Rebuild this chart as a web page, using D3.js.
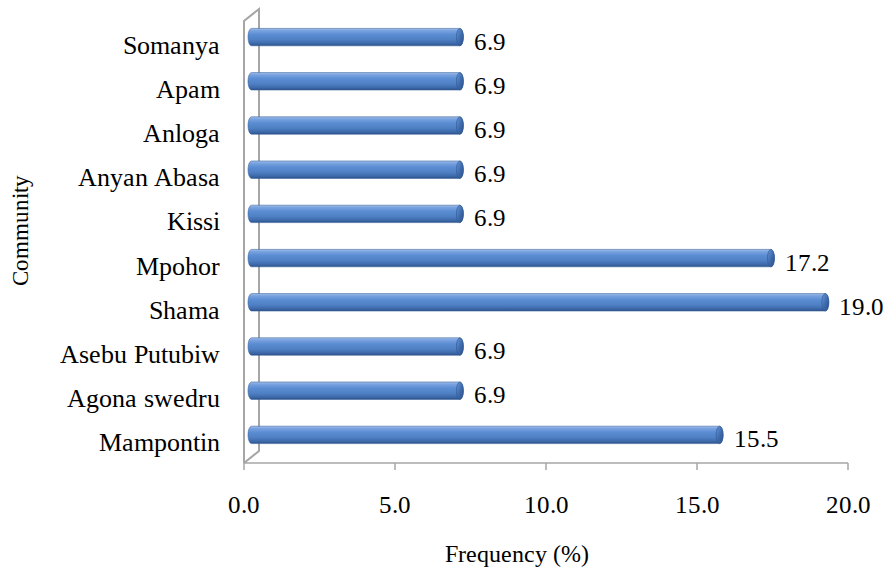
<!DOCTYPE html>
<html>
<head>
<meta charset="utf-8">
<script src="https://cdn.jsdelivr.net/npm/d3@7"></script>
<style>
  @font-face {
    font-family: "ChartSerif";
    src: local("Liberation Serif"), local("LiberationSerif"), local("LiberationSerif-Regular"),
         local("Times New Roman"), local("Tinos");
  }
</style>
</head>
<body style="margin:0">
<div id="viz"></div>
<script>
// Community names, bottom to top
const communities = ["Mampontin", "Agona swedru", "Asebu Putubiw", "Shama", "Mpohor",
                     "Kissi", "Anyan Abasa", "Anloga", "Apam", "Somanya"];
// Frequency (%) per community
const frequencies = [15.5, 6.9, 6.9, 19.0, 17.2, 6.9, 6.9, 6.9, 6.9, 6.9];
// X axis tick values
const xTicks = [0, 5, 10, 15, 20];

(function draw() {
  const serifFamily = "ChartSerif, 'Liberation Serif', 'Times New Roman', Times, serif";
  const svg = d3.select("#viz").append("svg")
    .attr("width", 886).attr("height", 574)
    .attr("font-family", serifFamily)
    .style("display", "block").style("background", "#ffffff");
  // apply the serif face to a text selection
  const serifText = (sel, size) => sel
    .attr("font-family", serifFamily)
    .style("font-family", serifFamily)
    .style("font-size", size + "px");

  // front plane of the plot and 3D depth offset
  const plotLeft = 244, plotRight = 848, plotTop = 21, plotBottom = 463;
  const depthX = 15, depthY = -12;

  const x = d3.scaleLinear().domain([0, 20]).range([plotLeft, plotRight]);
  const y = d3.scaleBand().domain(communities).range([plotBottom, plotTop])
    .paddingInner(0.61).paddingOuter(0.305);

  // gradients for cylinder bars
  const defs = svg.append("defs");
  const body = defs.append("linearGradient").attr("id", "barBody")
    .attr("x1", 0).attr("y1", 0).attr("x2", 0).attr("y2", 1);
  [[0, "#a7c3ea"], [0.12, "#7aa3e0"], [0.35, "#5b8dd3"], [0.65, "#4f80c4"], [0.88, "#3c68a8"], [1, "#2c4f86"]]
    .forEach(([o, c]) => body.append("stop").attr("offset", o).attr("stop-color", c));
  const cap = defs.append("linearGradient").attr("id", "barCap")
    .attr("x1", 0).attr("y1", 0).attr("x2", 1).attr("y2", 1);
  [[0, "#6c98d6"], [0.5, "#3f6db0"], [1, "#2b4f88"]]
    .forEach(([o, c]) => cap.append("stop").attr("offset", o).attr("stop-color", c));

  // side wall and floor edges
  const wallColor = "#a6a6a6";
  svg.append("path")
    .attr("d", `M${plotLeft},${plotBottom} L${plotLeft},${plotTop} L${plotLeft + depthX},${plotTop + depthY} ` +
               `L${plotLeft + depthX},${plotBottom + depthY} L${plotLeft},${plotBottom}`)
    .attr("stroke", wallColor).attr("stroke-width", 2).attr("fill", "none");

  // x axis line and ticks
  const axis = svg.append("g").attr("stroke", wallColor).attr("stroke-width", 1.5);
  axis.append("line").attr("x1", plotLeft).attr("x2", plotRight).attr("y1", plotBottom).attr("y2", plotBottom);
  axis.selectAll("line.tick").data(xTicks).join("line").attr("class", "tick")
    .attr("x1", d => x(d)).attr("x2", d => x(d))
    .attr("y1", plotBottom).attr("y2", plotBottom + 7);

  svg.append("g").selectAll("text").data(xTicks).join("text")
    .attr("x", d => x(d)).attr("y", 513)
    .attr("text-anchor", "middle")
    .call(serifText, 25)
    .text(d => d.toFixed(1));

  // category labels
  svg.append("g").selectAll("text").data(communities).join("text")
    .attr("x", 220)
    .attr("y", d => y(d) + y.bandwidth() / 2 + 10.5)
    .attr("text-anchor", "end")
    .call(serifText, 25.5)
    .text(d => d);

  // bars drawn as cylinders at mid depth
  const r = 8.7, rx = 3.5;
  const bx = v => x(v) + depthX / 2;
  const by = c => y(c) + y.bandwidth() / 2 + depthY / 2;
  const bars = svg.append("g").selectAll("g")
    .data(communities.map((c, i) => ({ c, v: frequencies[i] }))).join("g");

  bars.append("path")
    .attr("d", d => {
      const xs = bx(0), xe = bx(d.v), cy = by(d.c);
      return `M${xs},${cy - r} L${xe},${cy - r} A${rx},${r} 0 0 1 ${xe},${cy + r} ` +
             `L${xs},${cy + r} A${rx},${r} 0 0 1 ${xs},${cy - r} Z`;
    })
    .attr("fill", "url(#barBody)")
    .attr("stroke", "#3a64a0").attr("stroke-width", 0.6);

  bars.append("ellipse")
    .attr("cx", d => bx(d.v)).attr("cy", d => by(d.c))
    .attr("rx", rx).attr("ry", r)
    .attr("fill", "url(#barCap)")
    .attr("stroke", "#2f5590").attr("stroke-width", 0.6);

  // value labels
  bars.append("text")
    .attr("x", d => bx(d.v) + 14)
    .attr("y", d => by(d.c) + 12.5)
    .call(serifText, 25)
    .text(d => d.v.toFixed(1));

  // axis titles
  svg.append("text")
    .attr("x", 517).attr("y", 562)
    .attr("text-anchor", "middle")
    .call(serifText, 24)
    .text("Frequency (%)");

  svg.append("text")
    .attr("transform", "translate(28,230) rotate(-90)")
    .attr("text-anchor", "middle")
    .call(serifText, 23)
    .text("Community");
})();
</script>
</body>
</html>
